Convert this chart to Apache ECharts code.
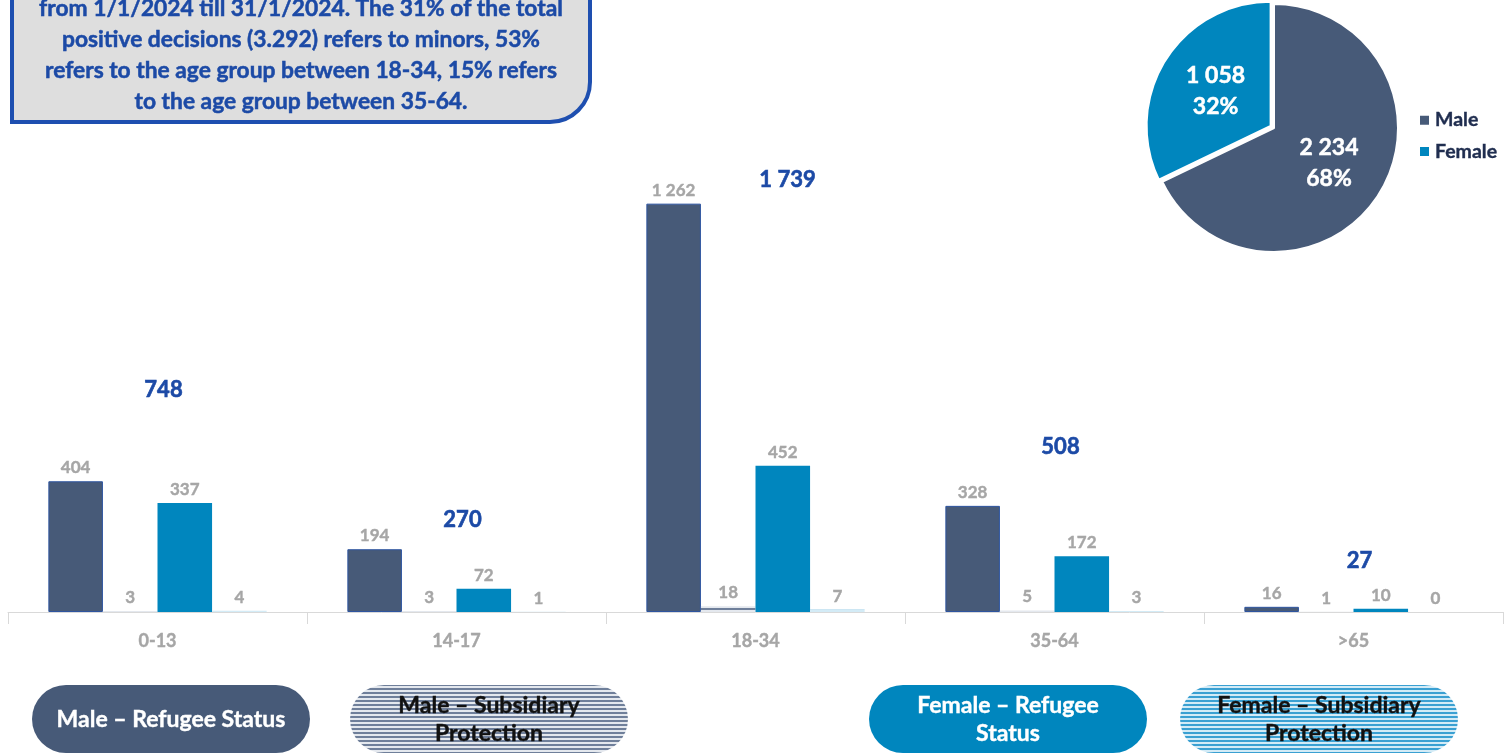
<!DOCTYPE html>
<html>
<head>
    <meta charset="utf-8">
    <title>Positive decisions by age group</title>
    <script src="https://cdn.jsdelivr.net/npm/echarts@6/dist/echarts.min.js"></script>
    <style>
        html, body { margin: 0; padding: 0; background: #fff; }
        #main { width: 1506px; height: 753px; }
    </style>
</head>
<body>
<div id="main"></div>
<script type="text/javascript">

    /* data */
    var ageGroups = ['0-13', '14-17', '18-34', '35-64', '>65'];
    var maleRefugee = [404, 194, 1262, 328, 16];
    var maleSubsidiary = [3, 3, 18, 5, 1];
    var femaleRefugee = [337, 72, 452, 172, 10];
    var femaleSubsidiary = [4, 1, 7, 3, 0];
    // height (in axis units) where the group total sits
    var totalLabelLevel = [687, 285, 1336, 510, 158];
    var genderNames = ['Male', 'Female'];
    var genderTotals = [2234, 1058];
    var noteLines = [
        'from 1/1/2024 till 31/1/2024. The 31% of the total',
        'positive decisions (3.292) refers to minors, 53%',
        'refers to the age group between 18-34, 15% refers',
        'to the age group between 35-64.'
    ];

    var FONT = 'Lato';
    var W = 'bold';
    var navy = '#475a78';
    var teal = '#0086be';
    var blue = '#1c4aa6';

    function fmt(v) {
        return String(v).replace(/\B(?=(\d{3})+(?!\d))/g, ' ');
    }

    // striped fill used for the "subsidiary" bars
    function stripes(c1, c2) {
        var cv = document.createElement('canvas');
        cv.width = 8; cv.height = 4;
        var ctx = cv.getContext('2d');
        ctx.fillStyle = c2; ctx.fillRect(0, 0, 8, 4);
        ctx.fillStyle = c1; ctx.fillRect(0, 0, 8, 2);
        return { image: cv, repeat: 'repeat' };
    }
    var maleStripe = stripes('#6f7f9a', '#e4e8ee');
    var femaleStripe = stripes('#3aa0d2', '#d3ebf6');

    var totals = ageGroups.map(function (g, i) {
        return maleRefugee[i] + maleSubsidiary[i] + femaleRefugee[i] + femaleSubsidiary[i];
    });

    var barLabel = {
        show: true,
        position: 'top',
        distance: 5,
        color: '#a6a6a6',
        fontFamily: FONT,
        fontWeight: W,
        fontSize: 17,
        textBorderColor: '#a6a6a6',
        textBorderWidth: 0.4,
        formatter: function (p) { return fmt(p.value); }
    };

    var myChart = echarts.init(document.getElementById('main'));

    var graphic = [
        {
            type: 'rect',
            shape: { x: 12, y: -200, width: 578, height: 322, r: [0, 40, 40, 0] },
            style: { fill: '#dedede', stroke: '#1e4fb0', lineWidth: 4 }
        }
    ];
    noteLines.forEach(function (t, i) {
        graphic.push({
            type: 'text',
            x: 301, y: 9 + i * 31,
            style: {
                text: t, fill: blue, stroke: blue, lineWidth: 0.5,
                font: W + ' 22.8px ' + FONT,
                align: 'center', verticalAlign: 'middle'
            }
        });
    });

    // bottom legend pills
    var pills = [
        { x: 32, fill: navy, color: '#fff', text: 'Male – Refugee Status' },
        { x: 350, fill: maleStripe, color: '#111', text: 'Male – Subsidiary\nProtection' },
        { x: 869, fill: teal, color: '#fff', text: 'Female – Refugee\nStatus' },
        { x: 1180, fill: femaleStripe, color: '#111', text: 'Female – Subsidiary\nProtection' }
    ];
    pills.forEach(function (p) {
        graphic.push({
            type: 'rect',
            shape: { x: p.x, y: 685, width: 278, height: 68, r: 34 },
            style: { fill: p.fill }
        });
        graphic.push({
            type: 'text',
            x: p.x + 139, y: 720,
            style: {
                text: p.text, fill: p.color, stroke: p.color, lineWidth: 0.4,
                font: W + ' 23px ' + FONT,
                align: 'center', verticalAlign: 'middle', lineHeight: 28
            }
        });
    });

    myChart.setOption({
        backgroundColor: '#fff',
        animation: false,
        graphic: graphic,
        legend: {
            data: genderNames,
            orient: 'vertical',
            left: 1413,
            top: 105,
            itemWidth: 11,
            itemHeight: 11,
            itemGap: 11,
            icon: 'rect',
            textStyle: {
                color: '#1f2d4f', fontFamily: FONT, fontWeight: W, fontSize: 19.5,
                textBorderColor: '#1f2d4f', textBorderWidth: 0.4
            }
        },
        grid: { left: 8, right: 3, top: 159, bottom: 141, containLabel: false },
        xAxis: {
            type: 'category',
            data: ageGroups,
            axisLine: { lineStyle: { color: '#d9d9d9' } },
            axisTick: { show: true, length: 12, lineStyle: { color: '#d9d9d9' } },
            axisLabel: {
                margin: 20, color: '#a6a6a6', fontFamily: FONT,
                fontWeight: W, fontSize: 18,
                textBorderColor: '#a6a6a6', textBorderWidth: 0.4
            }
        },
        yAxis: { type: 'value', min: 0, max: 1400, show: false },
        series: [
            {
                name: 'Male – Refugee Status', type: 'bar',
                data: maleRefugee, barGap: 0, barCategoryGap: '27%',
                itemStyle: { color: navy, borderColor: '#2e55a0', borderWidth: 1 },
                label: barLabel
            },
            {
                name: 'Male – Subsidiary Protection', type: 'bar',
                data: maleSubsidiary,
                itemStyle: { color: maleStripe },
                label: barLabel
            },
            {
                name: 'Female – Refugee Status', type: 'bar',
                data: femaleRefugee,
                itemStyle: { color: teal },
                label: barLabel
            },
            {
                name: 'Female – Subsidiary Protection', type: 'bar',
                data: femaleSubsidiary,
                itemStyle: { color: femaleStripe },
                label: barLabel
            },
            {
                name: 'Total', type: 'scatter',
                symbolSize: 0,
                itemStyle: { opacity: 1 },
                data: ageGroups.map(function (g, i) {
                    var item = { value: [g, totalLabelLevel[i], totals[i]] };
                    // the 18-34 total was nudged right in the original
                    item.label = { offset: [i === 2 ? 32 : 6, 0] };
                    return item;
                }),
                label: {
                    show: true, position: 'inside', opacity: 1,
                    color: blue, fontFamily: FONT, fontWeight: W, fontSize: 22,
                    textBorderColor: blue, textBorderWidth: 0.6,
                    formatter: function (p) { return fmt(p.value[2]); }
                },
                z: 5
            },
            {
                name: 'Gender', type: 'pie',
                center: [1274, 128], radius: 124,
                startAngle: 90,
                selectedMode: 'single', selectedOffset: 4,
                data: [
                    { name: genderNames[0], value: genderTotals[0], itemStyle: { color: navy } },
                    { name: genderNames[1], value: genderTotals[1], selected: true, itemStyle: { color: teal } }
                ],
                itemStyle: { borderColor: '#fff', borderWidth: 2 },
                label: {
                    show: true, position: 'inside',
                    color: '#fff', fontFamily: FONT, fontWeight: W, fontSize: 23, lineHeight: 31,
                    textBorderColor: '#fff', textBorderWidth: 0.5,
                    formatter: function (p) { return fmt(p.value) + '\n' + Math.round(p.percent) + '%'; }
                },
                labelLine: { show: false },
                emphasis: { disabled: true }
            }
        ]
    });

</script>
</body>
</html>
